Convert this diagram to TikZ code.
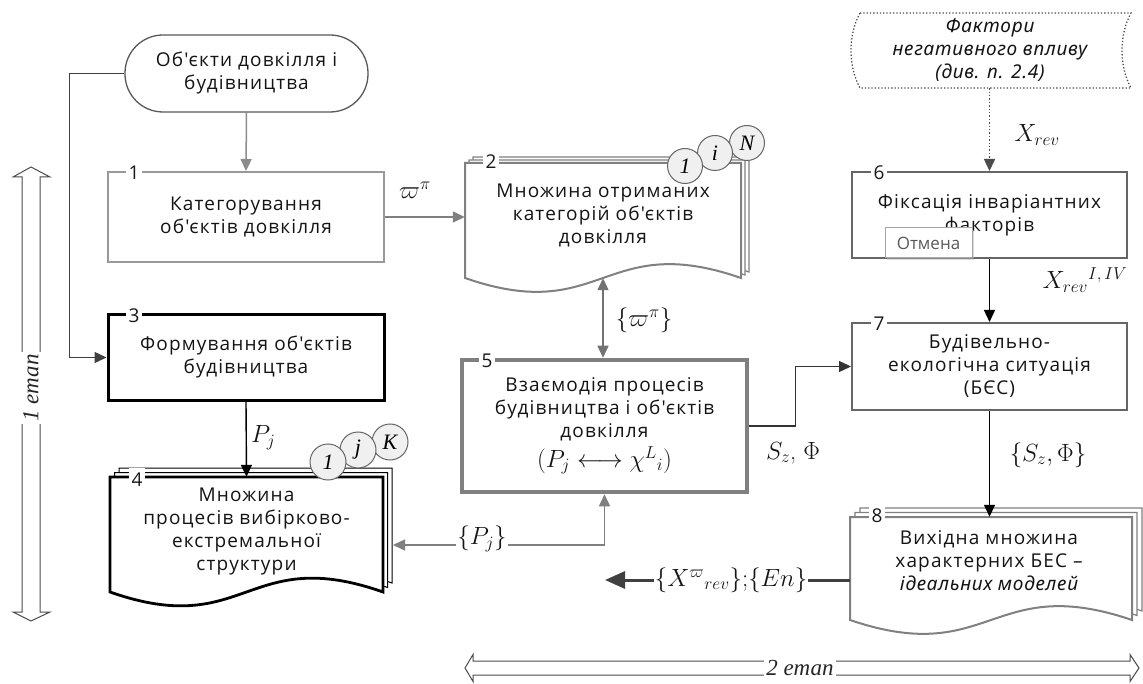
\documentclass[tikz,border=0pt]{standalone}
\usepackage{fontspec}
\usetikzlibrary{arrows.meta,calc,shadows}
\newfontfamily\uifont{Open Sans}[LetterSpace=6]
\newfontfamily\uiital{Noto Sans}[LetterSpace=4, UprightFont=*-Italic]
\newfontfamily\plainui{Open Sans}
\newfontfamily\tnr{Liberation Serif}

% page of a stacked "document" symbol: style, left, top, right, bottom (y grows downwards)
\newcommand{\stackpage}[5]{%
  \draw[#1] (#2,#3) -- (#4,#3) -- (#4,#5)
    .. controls ({(#2+#4)/2},{#5-48}) and ({(#2+#4)/2},{#5+48}) .. (#2,#5) -- cycle;}

\begin{document}
\begin{tikzpicture}[x=1pt,y=-1pt,
  font=\uifont\fontsize{19}{23}\selectfont,
  txt/.style={align=center, text=black!92, inner sep=0pt},
  frame/.style={rectangle, txt},
  area/.style={rectangle, inner sep=0pt, draw=none},
  num/.style={fill=white, inner xsep=3pt, inner ysep=1pt, text=black!90,
    font=\uifont\fontsize{19}{20}\selectfont},
  ctr/.style={circle, draw=black!60, line width=1pt, fill=black!6, minimum size=35pt,
    inner sep=0pt, font=\tnr\itshape\fontsize{22}{22}\selectfont},
  ml/.style={font=\fontsize{24}{24}\selectfont, inner sep=1pt, text=black!92},
  conn/.style={-{Triangle[length=12pt,width=11pt]}, line width=1.4pt},
  dconn/.style={{Triangle[length=12pt,width=11pt]}-{Triangle[length=12pt,width=11pt]}, line width=1.4pt},
  outarrow/.style={-{Triangle[length=20pt,width=17pt]}, line width=3pt, draw=black!75},
  stagearrow/.style={draw=black!70, line width=1pt, fill=white},
  stagelabel/.style={fill=white, inner sep=2pt, text=black!85,
    font=\tnr\itshape\fontsize{23}{23}\selectfont},
  page2/.style={draw=black!50, line width=1.2pt, fill=white},
  page2main/.style={draw=black!50, line width=2pt, fill=white},
  page4/.style={draw=black, line width=1pt, fill=white},
  page4main/.style={draw=black, line width=2.8pt, fill=white},
  page8/.style={draw=black!50, line width=1.2pt, fill=white},
  page8main/.style={draw=black!50, line width=2pt, fill=white},
  tooltip/.style={rectangle, draw=black!35, fill=white, line width=1pt,
    minimum width=87pt, minimum height=30pt, inner sep=0pt, text=black!65,
    font=\plainui\fontsize{17}{17}\selectfont,
    drop shadow={shadow xshift=2pt, shadow yshift=-2pt, fill=black!30, opacity=0.5}}
]
\useasboundingbox (0,0) rectangle (1143,684);
\fill[white] (0,0) rectangle (1143,684);

% stage arrows
\draw[stagearrow] (31,167) -- (13,177) -- (22,177) -- (22,612) -- (13,612) -- (31,621)
  -- (50,612) -- (40,612) -- (40,177) -- (50,177) -- cycle;
\node[stagelabel, rotate=90] (stage1) at (31,388) {1 етап};
\draw[stagearrow] (465,668) -- (473,654.5) -- (473,661) -- (1130,661) -- (1130,654.5)
  -- (1139,668) -- (1130,681.5) -- (1130,675) -- (473,675) -- (473,681.5) -- cycle;
\node[stagelabel] (stage2) at (800,668) {2 етап};

% start terminal
\node[txt, rectangle, rounded corners=38pt, draw=black!65, line width=1.3pt,
  minimum width=243pt, minimum height=77pt] (start) at (246.5,73.5)
  {Об'єкти довкілля і\\будівництва};

% process blocks
\node[frame, draw=black!40, line width=2pt, minimum width=276pt, minimum height=90pt]
  (box1) at (246,217) {Категорування\\об'єктів довкілля};
\node[num] (n1) at (134,173) {1};

\node[frame, draw=black, line width=3pt, minimum width=276pt, minimum height=85pt]
  (box3) at (246,357.5) {Формування об'єктів\\будівництва};
\node[num] (n3) at (134,316) {3};

\node[frame, draw=black!50, line width=4.5pt, minimum width=285pt, minimum height=132pt]
  (box5) at (604.5,426) {Взаємодія процесів\\будівництва і об'єктів\\довкілля\\[4pt]
  {\fontsize{24}{24}\selectfont$(P_j \longleftrightarrow \chi^{L}{}_{i})$}};
\node[num] (n5) at (487,361) {5};

\node[frame, draw=black!60, line width=2pt, minimum width=275pt, minimum height=86pt]
  (box6) at (989.5,215) {Фіксація інваріантних\\факторів};
\node[num] (n6) at (879,173) {6};

\node[frame, draw=black!60, line width=2pt, minimum width=275pt, minimum height=87pt]
  (box7) at (989.5,366.5) {Будівельно-\\екологічна ситуація\\(БЄС)};
\node[num] (n7) at (879,324) {7};

% external factors (stored data symbol)
\draw[draw=black!70, line width=1.3pt, dotted] (860,13) -- (1131,13)
  .. controls (1119,35) and (1119,66) .. (1131,88) -- (860,88)
  .. controls (848,66) and (848,35) .. (860,13) -- cycle;
\node[area, txt, minimum width=271pt, minimum height=75pt,
  font=\uiital\fontsize{19}{23}\selectfont] (factor) at (990,50.5)
  {Фактори\\негативного впливу\\(див. п. 2.4)};

% document stack 2
\stackpage{page2}{473}{157}{749}{272}
\stackpage{page2}{469}{160}{745}{275}
\stackpage{page2main}{465}{163}{741}{278}
\node[area, minimum width=276pt, minimum height=115pt] (box2) at (603,220.5) {};
\node[txt] (box2text) at (603,215) {Множина отриманих\\категорій об'єктів\\довкілля};
\node[num, minimum height=22pt] (n2) at (491,162) {2};
\node[ctr] (c2n) at (747,143) {N};
\node[ctr] (c2i) at (715,153) {i};
\node[ctr] (c21) at (685,166) {1};

% document stack 4
\stackpage{page4}{119}{468}{392}{583}
\stackpage{page4}{114.5}{472.5}{387.5}{587.5}
\stackpage{page4main}{110}{477}{383}{592}
\node[area, minimum width=273pt, minimum height=115pt] (box4) at (246.5,534.5) {};
\node[txt] (box4text) at (246.5,531) {Множина\\процесів вибірково-\\екстремальної\\структури};
\node[num, minimum height=24pt] (n4) at (137,480) {4};
\node[ctr, minimum size=36pt] (c4k) at (390,442) {K};
\node[ctr, minimum size=36pt] (c4j) at (358,450) {j};
\node[ctr, minimum size=36pt] (c41) at (328,462) {1};

% document stack 8
\stackpage{page8}{860}{508}{1142}{611}
\stackpage{page8}{855}{512.5}{1137}{615.5}
\stackpage{page8main}{850}{517}{1132}{620}
\node[area, minimum width=282pt, minimum height=103pt] (box8) at (991,568.5) {};
\node[txt] (box8text) at (989,561) {Вихідна множина\\характерних БЕС –\\{\uiital ідеальних моделей}};
\node[num, minimum height=24pt] (n8) at (877,516) {8};

% connectors
\draw[conn, draw=black!45, line width=1.5pt] (start.south) -- (box1.north);
\draw[conn, black!50] (box1.east) -- (box1.east -| box2.west);
\node[ml] (w1) at (415,190) {$\varpi^{\pi}$};
\draw[conn, black!75] (start.west) -- ++(-55,0) |- (box3.west);
\draw[conn, black] (box3.south) -- (box4.north);
\node[ml, anchor=west] (pj) at (250,438) {$P_j$};
\draw[dconn, black!55] (box2.south) -- (box2.south |- box5.north);
\node[ml] (w2) at (644,320) {$\{\varpi^{\pi}\}$};
\coordinate (b4in) at (393,545);
\draw[dconn, black!50] (b4in) -| (box5.south);
\node[ml, fill=white] (pjset) at (482,539) {$\{P_j\}$};
\draw[conn, black!80] (box5.east) -- ++(46,0) |- (box7.west);
\node[ml] (szf) at (793,453) {$S_z$, $\Phi$};
\draw[conn, black!70, dotted, line width=1.5pt] (factor.south -| box6.north) -- (box6.north);
\node[ml] (xrev) at (1037,135) {$X_{rev}$};
\draw[conn, black] (box6.south) -- (box7.north);
\node[ml] (xrev2) at (1085,280) {$X_{rev}{}^{I,\,IV}$};
\draw[conn, black] (box7.south) -- (box7.south |- box8.north);
\node[ml] (szf2) at (1048,455) {$\{S_z,\Phi\}$};
\coordinate (outtip) at (605,580);
\draw[outarrow] (box8.west |- outtip) -- (outtip);
\node[ml, fill=white] (xout) at (731,580) {$\{X^{\varpi}{}_{rev}\}{;}\{En\}$};

% cancel tooltip over block 6
\node[tooltip] (cancel) at (928.5,243) {Отмена};
\end{tikzpicture}
\end{document}
